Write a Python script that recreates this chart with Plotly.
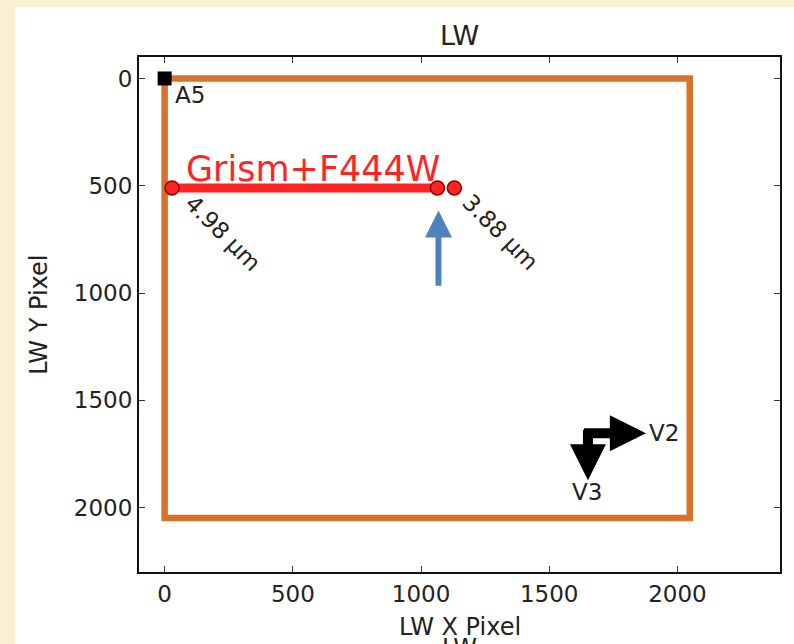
import plotly.graph_objects as go

# ---- data ----
detector_x = [0, 2048, 2048, 0, 0]
detector_y = [0, 0, 2048, 2048, 0]
grism_x = [29, 1064]
grism_y = [510, 510]
wave_pts_x = [29, 1064, 1130]
wave_pts_y = [510, 510, 510]
wave_labels = ["4.98 μm", "3.88 μm"]
wave_label_x = [227, 1310]
wave_label_y = [722, 714]
a5_x = [0]
a5_y = [0]
x_ticks = [0, 500, 1000, 1500, 2000]
y_ticks = [0, 500, 1000, 1500, 2000]
x_range = [-100, 2400]
y_range = [2300, -100]
v_origin = (1630, 1653)
v2_tip = (1877, 1653)
v3_origin = (1651, 1630)
v3_tip = (1651, 1872)
blue_tip = (1068, 615)
blue_tail = (1068, 973)

FONT = "DejaVu Sans"
TXT = "#222222"
ORANGE = "#D9712B"
RED = "#FF2424"

fig = go.Figure()

fig.add_trace(go.Scatter(x=detector_x, y=detector_y, mode="lines",
                         line=dict(color=ORANGE, width=6.5), hoverinfo="skip"))
fig.add_trace(go.Scatter(x=grism_x, y=grism_y, mode="lines",
                         line=dict(color=RED, width=9), hoverinfo="skip"))
fig.add_trace(go.Scatter(x=wave_pts_x, y=wave_pts_y, mode="markers",
                         marker=dict(color=RED, size=14, line=dict(color="#8B0000", width=1.5)),
                         hoverinfo="skip"))
fig.add_trace(go.Scatter(x=a5_x, y=a5_y, mode="markers",
                         marker=dict(color="black", size=14, symbol="square"),
                         hoverinfo="skip"))

ann = []
ann.append(dict(x=77, y=424, xref="x", yref="y", text="Grism+F444W", showarrow=False,
                xanchor="left", yanchor="middle",
                font=dict(family=FONT, size=35, color=RED)))
for t, xx, yy in zip(wave_labels, wave_label_x, wave_label_y):
    ann.append(dict(x=xx, y=yy, xref="x", yref="y", text=t, showarrow=False,
                    textangle=45, font=dict(family=FONT, size=23, color=TXT)))
ann.append(dict(x=33, y=75, xref="x", yref="y", text="A5", showarrow=False,
                xanchor="left", yanchor="middle", font=dict(family=FONT, size=23, color=TXT)))
ann.append(dict(x=v2_tip[0], y=v2_tip[1], ax=v_origin[0], ay=v_origin[1],
                xref="x", yref="y", axref="x", ayref="y", text="", showarrow=True,
                arrowhead=2, arrowsize=0.72, arrowwidth=10, arrowcolor="black", standoff=0))
ann.append(dict(x=v3_tip[0], y=v3_tip[1], ax=v3_origin[0], ay=v3_origin[1],
                xref="x", yref="y", axref="x", ayref="y", text="", showarrow=True,
                arrowhead=2, arrowsize=0.72, arrowwidth=10, arrowcolor="black", standoff=0))
ann.append(dict(x=1880, y=1650, xref="x", yref="y", text="V2", showarrow=False,
                xanchor="left", yanchor="middle", font=dict(family=FONT, size=23, color=TXT)))
ann.append(dict(x=1648, y=1928, xref="x", yref="y", text="V3", showarrow=False,
                xanchor="center", yanchor="middle", font=dict(family=FONT, size=23, color=TXT)))
ann.append(dict(x=blue_tip[0], y=blue_tip[1], ax=blue_tail[0], ay=blue_tail[1],
                xref="x", yref="y", axref="x", ayref="y", text="", showarrow=True,
                arrowhead=2, arrowsize=0.9, arrowwidth=6, arrowcolor="#4F81BD", standoff=0))
ann.append(dict(x=0.5, y=(572 - 35) / 515, xref="paper", yref="paper", yanchor="middle", text="LW",
                showarrow=False, font=dict(family=FONT, size=27, color=TXT)))
ann.append(dict(x=0.5, y=(572 - 627) / 515, xref="paper", yref="paper", yanchor="middle",
                text="LW X Pixel", showarrow=False, font=dict(family=FONT, size=24, color=TXT)))
ann.append(dict(x=(38 - 139) / 643, y=0.5, xref="paper", yref="paper", xanchor="center",
                text="LW Y Pixel", textangle=-90, showarrow=False,
                font=dict(family=FONT, size=24, color=TXT)))
ann.append(dict(x=0.5, y=(572 - 632) / 515, xref="paper", yref="paper", yanchor="top",
                text="LW", showarrow=False, font=dict(family=FONT, size=24, color=TXT)))

fig.update_layout(
    width=794, height=644,
    margin=dict(l=139, r=12, t=57, b=72),
    paper_bgcolor="#FBEFD3",
    plot_bgcolor="white",
    showlegend=False,
    annotations=ann,
    shapes=[dict(type="rect", xref="paper", yref="paper",
                 x0=(15 - 139) / 643, x1=(800 - 139) / 643,
                 y0=(572 - 650) / 515, y1=(572 - 7) / 515,
                 fillcolor="white", line=dict(width=0), layer="below")],
)
fig.update_xaxes(range=x_range, tickvals=x_ticks, ticktext=[str(v) for v in x_ticks],
                 showgrid=False, zeroline=False, showline=True, linecolor="#111", linewidth=2,
                 mirror="ticks", ticks="inside", ticklen=6, tickwidth=1.2, tickcolor="#333",
                 tickfont=dict(family=FONT, size=23, color=TXT))
fig.update_yaxes(range=y_range, tickvals=y_ticks, ticktext=[str(v) for v in y_ticks],
                 showgrid=False, zeroline=False, showline=True, linecolor="#111", linewidth=2,
                 mirror="ticks", ticks="inside", ticklen=6, tickwidth=1.2, tickcolor="#333",
                 tickfont=dict(family=FONT, size=23, color=TXT))

fig.write_html("out.html", config={"displayModeBar": False},
               post_script="document.body.style.margin='0';document.body.style.padding='0';")
